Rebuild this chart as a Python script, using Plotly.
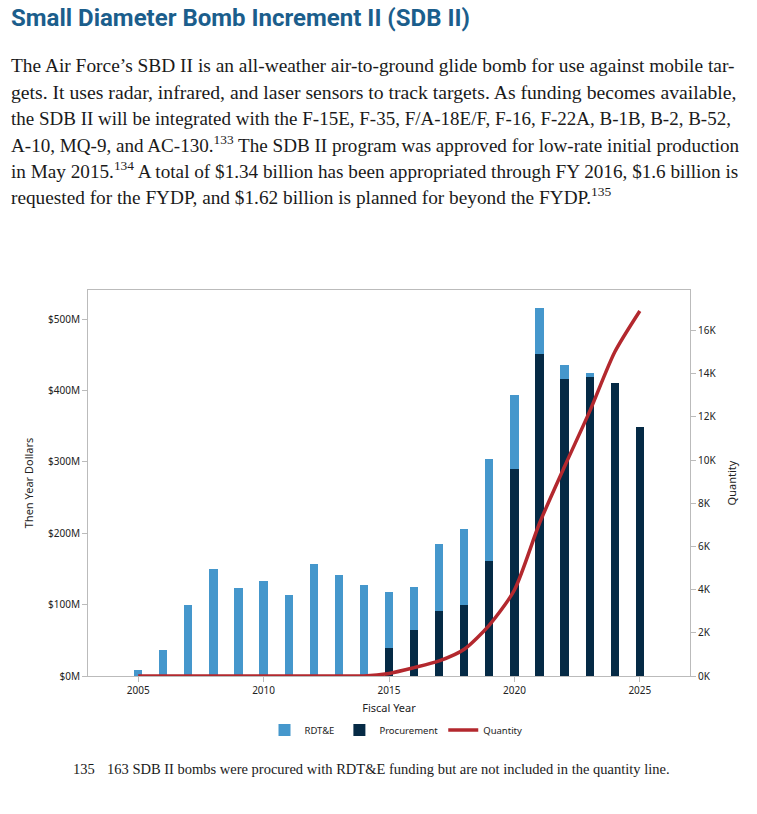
import plotly.graph_objects as go

# ---------------- data ----------------
years = list(range(2005, 2026))
rdte_total = [8, 36, 100, 150, 123, 133, 113, 157, 141, 127,
              117.4, 124.4, 184.8, 205.8, 304.1, 393.9, 516.0, 436.0, 424.8, 410.8, 349.0]
procurement = [0, 0, 0, 0, 0, 0, 0, 0, 0, 0,
               38.8, 64.1, 90.8, 99.2, 160.9, 290.1, 451.5, 416.4, 419.2, 410.8, 349.0]
rdte = [round(t - p, 1) for t, p in zip(rdte_total, procurement)]
quantity = [0, 0, 0, 0, 0, 0, 0, 0, 0, 0,
            120, 390, 700, 1240, 2360, 3980, 7070, 9700, 12250, 15000, 16900]

left_ticks = [0, 100, 200, 300, 400, 500]
left_labels = ["$0M", "$100M", "$200M", "$300M", "$400M", "$500M"]
right_ticks = [0, 2000, 4000, 6000, 8000, 10000, 12000, 14000, 16000]
right_labels = ["0K", "2K", "4K", "6K", "8K", "10K", "12K", "14K", "16K"]
x_ticks = [2005, 2010, 2015, 2020, 2025]

title_text = "Small Diameter Bomb Increment II (SDB II)"
body_lines = [
    "The Air Force’s SBD II is an all-weather air-to-ground glide bomb for use against mobile tar-",
    "gets. It uses radar, infrared, and laser sensors to track targets. As funding becomes available,",
    "the SDB II will be integrated with the F-15E, F-35, F/A-18E/F, F-16, F-22A, B-1B, B-2, B-52,",
    "A-10, MQ-9, and AC-130.<sup>133</sup> The SDB II program was approved for low-rate initial production",
    "in May 2015.<sup>134</sup> A total of $1.34 billion has been appropriated through FY 2016, $1.6 billion is",
    "requested for the FYDP, and $1.62 billion is planned for beyond the FYDP.<sup>135</sup>",
]
footnote_num = "135"
footnote_text = "163 SDB II bombs were procured with RDT&E funding but are not included in the quantity line."

# ---------------- layout helpers ----------------
W, H = 757, 814
L, R, T, B = 88, 690, 290, 676


def px(x):
    return (x - L) / (R - L)


def py(y):
    return (B - y) / (B - T)


LIGHT = "#4597CC"
NAVY = "#052A45"
RED = "#B3282E"
AXFONT = "Noto Sans, Open Sans, sans-serif"
SERIF = "Liberation Serif, DejaVu Serif, serif"

fig = go.Figure()
fig.add_trace(go.Bar(x=years, y=procurement, name="Procurement", marker_color=NAVY,
                     marker_line_width=0, legendrank=2))
fig.add_trace(go.Bar(x=years, y=rdte, name="RDT&E", marker_color=LIGHT,
                     marker_line_width=0, legendrank=1))
fig.add_trace(go.Scatter(x=years, y=quantity, name="Quantity", mode="lines",
                         line=dict(color=RED, width=3.5, shape="spline", smoothing=0.7),
                         yaxis="y2", legendrank=3))

fig.update_layout(
    width=W, height=H,
    margin=dict(l=L, r=W - R, t=T, b=H - B, autoexpand=False),
    paper_bgcolor="white", plot_bgcolor="white",
    barmode="stack", bargap=0.67,
    showlegend=True,
    legend=dict(orientation="h", x=px(396), xanchor="center", y=py(730), yanchor="middle",
                font=dict(family=AXFONT, size=9.5, color="#222"), itemwidth=30,
                traceorder="normal"),
    xaxis=dict(range=[2003, 2027], tickvals=x_ticks, showgrid=False, zeroline=False,
               showline=True, linecolor="#BBBBBB", linewidth=1, mirror=True,
               ticks="outside", ticklen=5, tickcolor="#BBBBBB",
               tickfont=dict(family=AXFONT, size=10, color="#222"),
               title=dict(text="Fiscal Year", font=dict(family=AXFONT, size=11, color="#222"),
                          standoff=8)),
    yaxis=dict(range=[0, 540.7], tickvals=left_ticks, ticktext=left_labels, showgrid=False,
               zeroline=False, showline=True, linecolor="#BBBBBB", linewidth=1,
               ticks="outside", ticklen=5, tickcolor="#BBBBBB",
               tickfont=dict(family=AXFONT, size=10, color="#222"),
               title=dict(text="Then Year Dollars", font=dict(family=AXFONT, size=11, color="#222"),
                          standoff=12)),
    yaxis2=dict(range=[0, 17870], tickvals=right_ticks, ticktext=right_labels, overlaying="y",
                side="right", showgrid=False, zeroline=False, showline=True,
                linecolor="#BBBBBB", linewidth=1, ticks="outside", ticklen=5,
                tickcolor="#BBBBBB", tickfont=dict(family=AXFONT, size=10, color="#222"),
                title=dict(text="Quantity", font=dict(family=AXFONT, size=11, color="#222"),
                           standoff=12)),
)

annotations = []
annotations.append(dict(text="<b>" + title_text + "</b>", x=px(9), y=py(18), xref="paper", yref="paper",
                        xanchor="left", yanchor="middle", showarrow=False,
                        font=dict(family="Roboto, Liberation Sans, sans-serif", size=24,
                                  color="#1B5E8C")))
# body is justified in the reference: each line gets its own size to fill the column
line_y = [66, 92, 118, 144, 170, 196]
line_size = [19.4, 19.7, 19.0, 19.1, 19.2, 19.3]
for txt, yy, fs in zip(body_lines, line_y, line_size):
    annotations.append(dict(text=txt, x=px(9), y=py(yy), xref="paper", yref="paper",
                            xanchor="left", yanchor="middle", showarrow=False,
                            font=dict(family=SERIF, size=fs, color="#1a1a1a")))
annotations.append(dict(text=footnote_num, x=px(71), y=py(769), xref="paper", yref="paper",
                        xanchor="left", yanchor="middle", showarrow=False,
                        font=dict(family=SERIF, size=14.5, color="#1a1a1a")))
annotations.append(dict(text=footnote_text, x=px(105), y=py(769), xref="paper", yref="paper",
                        xanchor="left", yanchor="middle", showarrow=False,
                        font=dict(family=SERIF, size=14.5, color="#1a1a1a")))
fig.update_layout(annotations=annotations)

# the page fills the window edge to edge, like the reference
fig.write_html("out.html", config={"displayModeBar": False},
               post_script="document.body.style.margin='0px';")
